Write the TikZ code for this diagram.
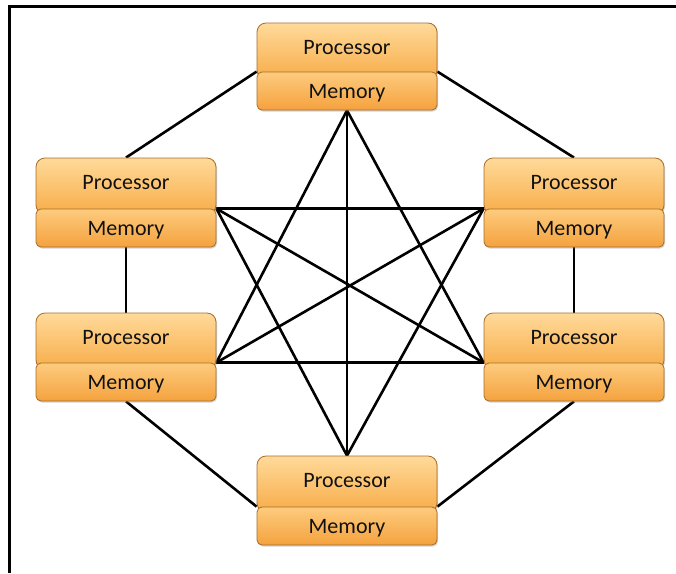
\documentclass[tikz,border=0pt]{standalone}
\usepackage{fontspec}
\setmainfont{Carlito}
\usetikzlibrary{shadows,backgrounds}
\definecolor{boxtop}{HTML}{FFDA9A}
\definecolor{boxbot}{HTML}{F7AC48}
\definecolor{memtop}{HTML}{FDCB7E}
\definecolor{membot}{HTML}{F5A23E}
\definecolor{boxedge}{HTML}{A86C2A}
\definecolor{txt}{HTML}{111111}
\tikzset{
  unit/.style={draw=boxedge, line width=0.8pt, minimum width=180pt, text=txt,
    font=\fontsize{22}{24}\selectfont, inner sep=0pt,
    drop shadow={opacity=0.35, shadow xshift=1pt, shadow yshift=-1.5pt}},
  proc/.style={unit, minimum height=56pt, rounded corners=9pt, top color=boxtop, bottom color=boxbot,
    text height=12pt, text depth=6pt},
  mem/.style={unit, minimum height=38pt, rounded corners=5pt, top color=memtop, bottom color=membot,
    text height=16pt, text depth=2pt},
  link/.style={line width=2.6pt, black}
}
\begin{document}
\begin{tikzpicture}[x=1pt,y=-1pt]
\useasboundingbox (0,0) rectangle (676,573);
% frame
\draw[line width=2.6pt] (676,6.5) -- (9.3,6.5) -- (9.3,573);
% nodes
\node[proc] (p1) at (347,51) {Processor};
\node[mem]  (m1) at (347,91) {Memory};
\node[proc] (p2) at (126,186) {Processor};
\node[mem]  (m2) at (126,228) {Memory};
\node[proc] (p3) at (126,341) {Processor};
\node[mem]  (m3) at (126,382) {Memory};
\node[proc] (p4) at (574,186) {Processor};
\node[mem]  (m4) at (574,228) {Memory};
\node[proc] (p5) at (574,341) {Processor};
\node[mem]  (m5) at (574,382) {Memory};
\node[proc] (p6) at (347,484) {Processor};
\node[mem]  (m6) at (347,526) {Memory};
\begin{pgfonlayer}{background}
% ring
\draw[link] (m1.north west) -- (p2.north);
\draw[link] (m1.north east) -- (p4.north);
\draw[link] (m2.south) -- (p3.north);
\draw[link] (m4.south) -- (p5.north);
\draw[link] (m3.south) -- (m6.north west);
\draw[link] (m5.south) -- (m6.north east);
% chords
\draw[link] (m1.south) -- (m3.north east);
\draw[link] (m1.south) -- (m5.north west);
\draw[link] (m1.south) -- (p6.north);
\draw[link] (p6.north) -- (m2.north east);
\draw[link] (p6.north) -- (m4.north west);
\draw[link] (m2.north east) -- (m4.north west);
\draw[link] (m3.north east) -- (m5.north west);
\draw[link] (m2.north east) -- (m5.north west);
\draw[link] (m3.north east) -- (m4.north west);
\end{pgfonlayer}
\end{tikzpicture}
\end{document}
